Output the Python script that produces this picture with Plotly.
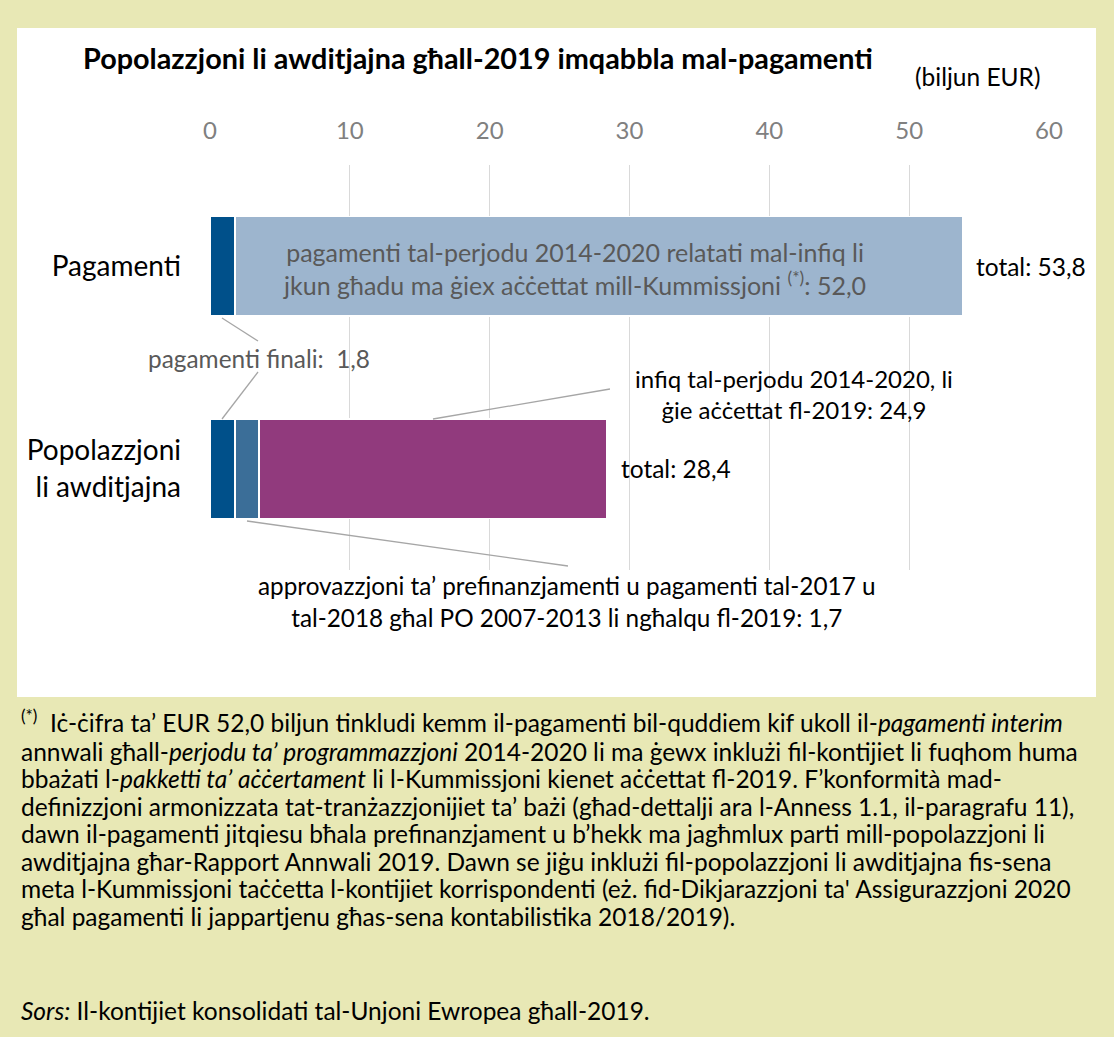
import plotly.graph_objects as go

W, H = 1114, 1037

# ---------------- data ----------------
categories = ["Pagamenti", "Popolazzjoni<br>li awditjajna"]
final_payments = [1.8, 1.8]            # pagamenti finali (both bars)
prefin_clearance = [1.7]               # approvazzjoni ta' prefinanzjamenti (audited population)
not_accepted = [52.0]                  # pagamenti 2014-2020 mhux aċċettati (payments)
accepted = [24.9]                      # infiq 2014-2020 aċċettat fl-2019 (audited population)
x_ticks = [0, 10, 20, 30, 40, 50, 60]

total_pay = final_payments[0] + not_accepted[0]
total_pop = final_payments[1] + prefin_clearance[0] + accepted[0]

def fmt(v):
    return f"{v:.1f}".replace(".", ",")

FONT = "Lato"
C_DARK = "#00508A"
C_STEEL = "#3B6E98"
C_LIGHT = "#9DB5CE"
C_PURPLE = "#913A7D"
YELLOW = "#E8E8B5"

# plot area in pixels
PX0, PX1 = 210, 1049
PY0, PY1 = 165, 570

def px(x):
    return x / W

def py(y):
    return 1 - y / H

fig = go.Figure()
common = dict(orientation="h", width=0.49, marker_line_color="white", marker_line_width=1.5,
              hoverinfo="skip", showlegend=False)
fig.add_bar(y=categories, x=final_payments, marker_color=C_DARK, **common)
fig.add_bar(y=[categories[1]], x=prefin_clearance, marker_color=C_STEEL, **common)
fig.add_bar(y=[categories[0]], x=not_accepted, marker_color=C_LIGHT, **common)
fig.add_bar(y=[categories[1]], x=accepted, marker_color=C_PURPLE, **common)

fig.update_layout(
    width=W, height=H, autosize=False,
    margin=dict(l=0, r=0, t=0, b=0, pad=0, autoexpand=False),
    paper_bgcolor=YELLOW, plot_bgcolor="rgba(0,0,0,0)",
    barmode="stack", showlegend=False,
    font=dict(family=FONT, color="black"),
    xaxis=dict(domain=[px(PX0), px(PX1)], range=[0, 60], side="top", automargin=False,
               tickvals=x_ticks, showgrid=True, gridcolor="#D9D9D9", gridwidth=1.3,
               zeroline=False, showline=False, ticks="",
               tickfont=dict(size=24, color="#808080"), ticklabelstandoff=20),
    yaxis=dict(domain=[py(PY1), py(PY0)], range=[1.5, -0.5], type="category", automargin=False,
               showgrid=False, zeroline=False, showline=False, ticks="",
               tickfont=dict(size=28, color="black"), ticklabelstandoff=28),
)

# white panel
fig.add_shape(type="rect", xref="paper", yref="paper", x0=px(17), x1=px(1096), y0=py(697), y1=py(28),
              fillcolor="white", line_width=0, layer="below")

# leader lines
LC = "#A6A6A6"
for (x0, y0, x1, y1) in [(222, 318, 258, 341), (258, 372, 222, 419), (433, 419, 610, 389),
                         (247, 521, 568, 566)]:
    fig.add_shape(type="line", xref="paper", yref="paper", x0=px(x0), y0=py(y0), x1=px(x1), y1=py(y1),
                  line=dict(color=LC, width=1.3))

def ann(text, x, y, size=24, color="black", xanchor="center", yanchor="middle", align="center", **kw):
    fig.add_annotation(text=text, x=px(x), y=py(y), xref="paper", yref="paper", showarrow=False,
                       xanchor=xanchor, yanchor=yanchor, align=align,
                       font=dict(size=size, color=color, family=FONT), **kw)

# title
ann("<b>Popolazzjoni li awditjajna għall-2019 imqabbla mal-pagamenti</b>", 478, 58, size=28.8)
ann("(biljun EUR)", 977, 77, size=24.5)

# labels on bars
ann("pagamenti tal-perjodu 2014-2020 relatati mal-infiq li<br>"
    f"jkun għadu ma ġiex aċċettat mill-Kummissjoni <sup>(*)</sup>: {fmt(not_accepted[0])}",
    574, 269, size=25, color="#595959")
fig.add_annotation(text=f"total: {fmt(total_pay)}", x=total_pay, y=categories[0], xref="x", yref="y",
                   showarrow=False, xanchor="left", xshift=12, font=dict(size=24.5, color="black", family=FONT))
fig.add_annotation(text=f"total: {fmt(total_pop)}", x=total_pop, y=categories[1], xref="x", yref="y",
                   showarrow=False, xanchor="left", xshift=12, font=dict(size=24.5, color="black", family=FONT))
ann(f"pagamenti finali:  {fmt(final_payments[0])}", 259, 358, size=24.4, color="#595959")
ann(f"infiq tal-perjodu 2014-2020, li<br>ġie aċċettat fl-2019: {fmt(accepted[0])}", 794, 394, size=24)
ann("approvazzjoni ta’ prefinanzjamenti u pagamenti tal-2017 u<br>"
    f"tal-2018 għal PO 2007-2013 li ngħalqu fl-2019: {fmt(prefin_clearance[0])}", 567, 601, size=24.3)

# footnote
foot = [
    "<sup>(*)</sup>  Iċ-ċifra ta’ EUR 52,0 biljun tinkludi kemm il-pagamenti bil-quddiem kif ukoll il-<i>pagamenti interim</i>",
    "annwali għall-<i>perjodu ta’ programmazzjoni</i> 2014-2020 li ma ġewx inklużi fil-kontijiet li fuqhom huma",
    "bbażati l-<i>pakketti ta’ aċċertament</i> li l-Kummissjoni kienet aċċettat fl-2019. F’konformità mad-",
    "definizzjoni armonizzata tat-tranżazzjonijiet ta’ bażi (għad-dettalji ara l-Anness 1.1, il-paragrafu 11),",
    "dawn il-pagamenti jitqiesu bħala prefinanzjament u b’hekk ma jagħmlux parti mill-popolazzjoni li",
    "awditjajna għar-Rapport Annwali 2019. Dawn se jiġu inklużi fil-popolazzjoni li awditjajna fis-sena",
    "meta l-Kummissjoni taċċetta l-kontijiet korrispondenti (eż. fid-Dikjarazzjoni ta' Assigurazzjoni 2020",
    "għal pagamenti li jappartjenu għas-sena kontabilistika 2018/2019).",
]
y = 721
for i, line in enumerate(foot):
    ann(line, 19, y, size=24.5, xanchor="left", align="left")
    y += 27.5 if i > 0 else 30
ann("<i>Sors:</i> Il-kontijiet konsolidati tal-Unjoni Ewropea għall-2019.", 19, 1010, size=24.5,
    xanchor="left", align="left")

fig.write_html("out.html",
               config={"responsive": False, "displayModeBar": False},
               post_script="document.body.style.margin='0';document.body.style.overflow='hidden';")
